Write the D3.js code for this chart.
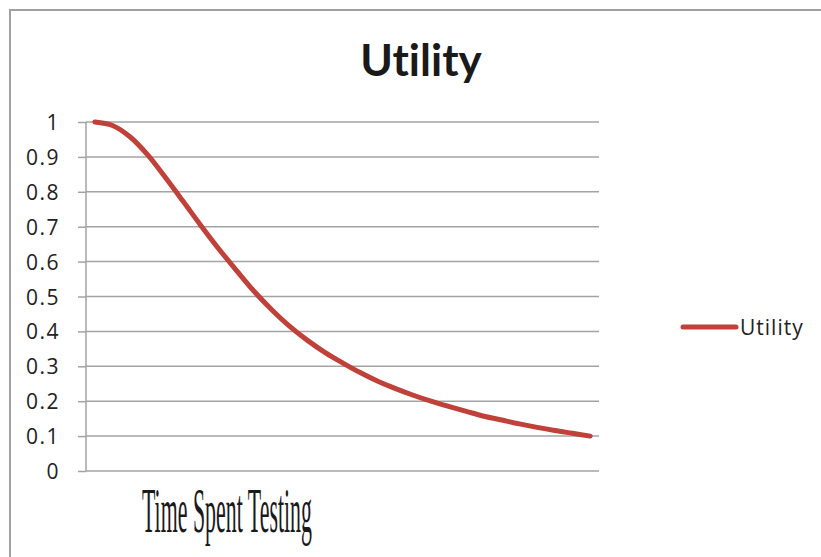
<!DOCTYPE html>
<html>
<head>
<meta charset="utf-8">
<script src="https://cdn.jsdelivr.net/npm/d3@7"></script>
<style>
  body { margin: 0; background: #fff; }
  svg { display: block; }
  text { font-variant-ligatures: none; }
</style>
</head>
<body>
<svg id="chart" width="821" height="557"></svg>
<script>

// data
var steps = d3.range(1, 30);
var utility = [1.0, 0.99, 0.957, 0.905, 0.84, 0.772, 0.703, 0.637, 0.575, 0.515,
               0.462, 0.415, 0.375, 0.34, 0.31, 0.282, 0.257, 0.236, 0.217, 0.20,
               0.185, 0.171, 0.157, 0.146, 0.135, 0.125, 0.116, 0.108, 0.10];
var yTicks = [0, 0.1, 0.2, 0.3, 0.4, 0.5, 0.6, 0.7, 0.8, 0.9, 1];
var seriesName = "Utility";
var xTitle = "Time Spent Testing";

var chart = {};

function setup() {
    chart.svg = d3.select("#chart");
    chart.plot = {left: 86, right: 599, top: 122, bottom: 471};
    chart.grey = "#a3a3a3";
    chart.red = "#c0403a";

    // outer frame (only left and top edges are in view)
    chart.svg.append("path")
        .attr("d", "M10,557 L10,10 L821,10")
        .attr("fill", "none")
        .attr("stroke", "#a0a0a0")
        .attr("stroke-width", 2);

    chart.x = d3.scaleBand()
        .domain(steps)
        .range([chart.plot.left, chart.plot.right]);

    chart.y = d3.scaleLinear()
        .domain([0, 1])
        .range([chart.plot.bottom, chart.plot.top]);

    // gridlines + y ticks
    var yAxis = chart.svg.append("g")
        .attr("transform", `translate(${chart.plot.left},0)`)
        .call(d3.axisLeft(chart.y)
                .tickValues(yTicks)
                .tickSize(8)
                .tickPadding(18)
                .tickFormat(d3.format("")));
    yAxis.select(".domain").remove();
    yAxis.selectAll("line").attr("stroke", chart.grey).attr("stroke-width", 1.5);
    yAxis.selectAll("text")
        .attr("font-family", "'Open Sans', sans-serif")
        .attr("font-size", 21)
        .attr("letter-spacing", 1.5)
        .attr("fill", "#222")
        .attr("dy", "0.36em");

    chart.svg.append("g")
        .selectAll("line")
        .data(yTicks)
        .join("line")
        .attr("x1", chart.plot.left)
        .attr("x2", chart.plot.right)
        .attr("y1", d => chart.y(d))
        .attr("y2", d => chart.y(d))
        .attr("stroke", chart.grey)
        .attr("stroke-width", 1.5);

    // y axis line
    chart.svg.append("line")
        .attr("x1", chart.plot.left).attr("x2", chart.plot.left)
        .attr("y1", chart.plot.top).attr("y2", chart.plot.bottom)
        .attr("stroke", chart.grey)
        .attr("stroke-width", 1.5);

    // series (smoothed like the original)
    var line = d3.line()
        .x((d, i) => chart.x(steps[i]) + chart.x.bandwidth() / 2)
        .y(d => chart.y(d))
        .curve(d3.curveCatmullRom.alpha(0.5));

    chart.svg.append("path")
        .datum(utility)
        .attr("d", line)
        .attr("fill", "none")
        .attr("stroke", chart.red)
        .attr("stroke-width", 5)
        .attr("stroke-linecap", "round")
        .attr("stroke-linejoin", "round");

    // title
    chart.svg.append("text")
        .attr("x", 421)
        .attr("y", 76)
        .attr("text-anchor", "middle")
        .attr("font-family", "Lato, sans-serif")
        .attr("font-weight", "bold")
        .attr("font-size", 44)
        .attr("fill", "#1a1a1a")
        .text(seriesName);

    // x title, very condensed serif
    chart.svg.append("text")
        .attr("x", 142)
        .attr("y", 532)
        .attr("textLength", 170)
        .attr("lengthAdjust", "spacingAndGlyphs")
        .attr("font-family", "'Liberation Serif', serif")
        .attr("font-size", 64)
        .attr("fill", "#1a1a1a")
        .text(xTitle);

    // legend
    var legend = chart.svg.append("g");
    legend.append("line")
        .attr("x1", 683).attr("x2", 736)
        .attr("y1", 327).attr("y2", 327)
        .attr("stroke", chart.red)
        .attr("stroke-width", 5)
        .attr("stroke-linecap", "round");
    legend.append("text")
        .attr("x", 740)
        .attr("y", 335)
        .attr("font-family", "'Open Sans', sans-serif")
        .attr("font-size", 21)
        .attr("letter-spacing", 1)
        .attr("fill", "#222")
        .text(seriesName);
}

window.addEventListener('load', setup)
</script>
</body>
</html>
